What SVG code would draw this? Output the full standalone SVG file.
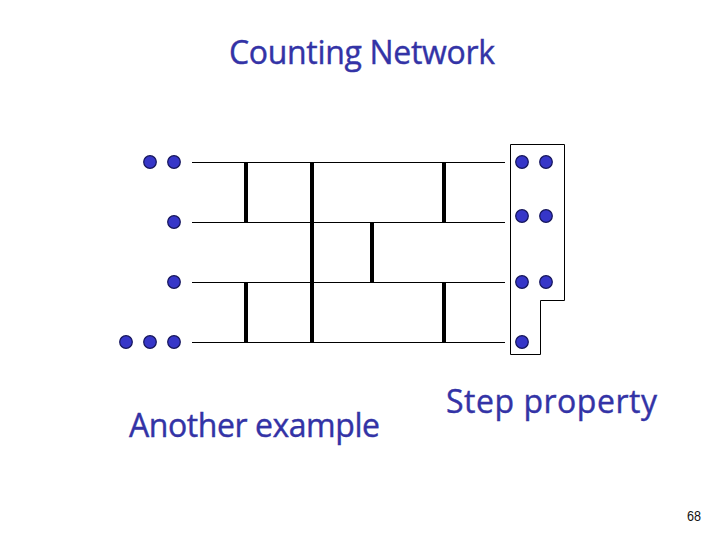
<svg xmlns="http://www.w3.org/2000/svg" width="720" height="540" viewBox="0 0 720 540">
<style>
.w{stroke:#000;stroke-width:1;fill:none}
.b{stroke:#000;stroke-width:4;fill:none}
.d{fill:#3636c8;stroke:#14145a;stroke-width:1.2}
text{font-family:"Open Sans",sans-serif}
.h{fill:#3333a6;stroke:#3333a6;stroke-width:.4;font-size:32px}
</style>
<rect width="720" height="540" fill="#fff"/>
<text id="title" class="h" x="229" y="64" textLength="266" lengthAdjust="spacing">Counting Network</text>
<g id="connectors">
<path class="w" d="M192 162.500H505M192 222.500H505M192 282.500H505M192 342.500H505"/>
<path class="b" d="M246 162V222M246 282V342M312 162V342M372 222V282M444 162V222M444 282V342"/>
</g>
<g id="step-box"><path class="w" d="M510.500 144.500H564.500V300.500H540.500V354.500H510.500Z"/></g>
<g id="input-tokens">
<circle class="d" cx="150" cy="162" r="6.300"/><circle class="d" cx="174" cy="162" r="6.300"/>
<circle class="d" cx="174" cy="222" r="6.300"/>
<circle class="d" cx="174" cy="282" r="6.300"/>
<circle class="d" cx="126" cy="342" r="6.300"/><circle class="d" cx="150" cy="342" r="6.300"/><circle class="d" cx="174" cy="342" r="6.300"/>
</g>
<g id="output-tokens">
<circle class="d" cx="522" cy="162" r="6.300"/><circle class="d" cx="546" cy="162" r="6.300"/>
<circle class="d" cx="522" cy="216" r="6.300"/><circle class="d" cx="546" cy="216" r="6.300"/>
<circle class="d" cx="522" cy="282" r="6.300"/><circle class="d" cx="546" cy="282" r="6.300"/>
<circle class="d" cx="522" cy="342" r="6.300"/>
</g>
<text id="another" class="h" x="129" y="437" textLength="251" lengthAdjust="spacing">Another example</text>
<text id="step" class="h" x="446" y="413" textLength="211" lengthAdjust="spacing">Step property</text>
<text id="page" x="687" y="521" font-size="14" fill="#111" textLength="14" lengthAdjust="spacingAndGlyphs" style="font-family:'Liberation Sans',sans-serif">68</text>
</svg>
